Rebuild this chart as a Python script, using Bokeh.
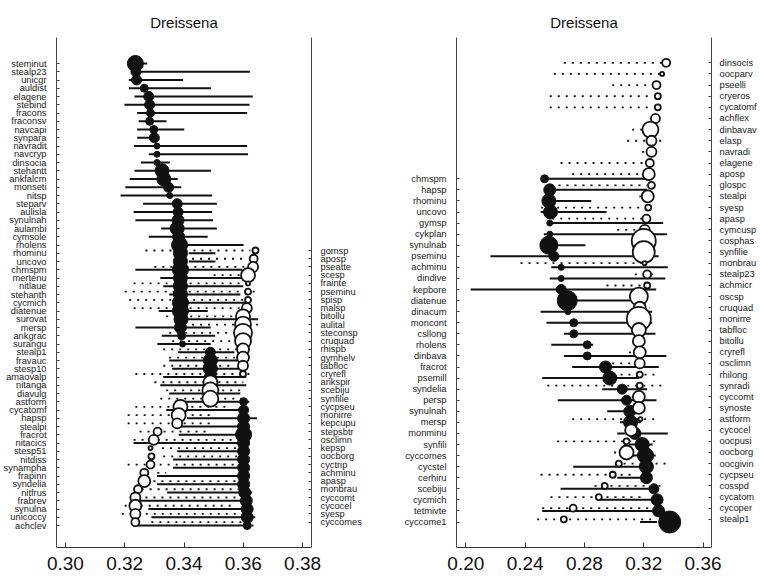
from bokeh.plotting import figure
from bokeh.models import Range1d, LinearAxis, FixedTicker, NumeralTickFormatter, ColumnDataSource
from bokeh.layouts import row
from bokeh.embed import file_html
from bokeh.resources import INLINE

# ---------------- DATA ----------------
# Left panel, decreasers (z-), top to bottom
L_dec_names = ["steminut","stealp23","unicgr","auldist","elagene","stebind","fracons","fraconsv",
               "navcapi","synpara","navradit","navcryp","dinsocia","stehantt","ankfalcm","monseti",
               "nitsp","steparv","aulisla","synulnah","aulambi","cymsole","rholens","rhominu",
               "uncovo","chmspm","mertenu","nitlaue","stehanth","cycmich","diatenue","surovat",
               "mersp","ankgrac","surangu","stealp1","fravauc","stesp10","amaovalp","nitanga",
               "diavulg","astform","cycatomf","hapsp","stealpi","fracrot","nitacics","stesp51",
               "nitdiss","synampha","frapinn","syndelia","nitfrus","frabrev","synulna","unicoccy","achclev"]
L_dec_cp = [0.3236,0.3238,0.3240,0.3266,0.3281,0.3284,0.3287,0.3284,0.3298,0.3300,0.3309,0.3309,
            0.3309,0.3326,0.3332,0.3348,0.3352,0.3377,0.3380,0.3380,0.3377,0.3382,0.3385,0.3388,
            0.3388,0.3388,0.3388,0.3388,0.3388,0.3388,0.3388,0.3390,0.3388,0.3392,0.3395,0.3489,
            0.3489,0.3489,0.3489,0.3489,0.3489,0.3601,0.3601,0.3601,0.3601,0.3601,0.3601,0.3601,
            0.3601,0.3601,0.3601,0.3601,0.3605,0.3610,0.3613,0.3613,0.3613]
L_dec_lo = [0.3225,0.3253,0.3214,0.3214,0.3233,0.3199,0.3242,0.3247,0.3242,0.3242,0.3231,0.3281,
            0.3255,0.3233,0.3217,0.3202,0.3186,0.3262,0.3230,0.3236,0.3323,0.3281,0.3390,0.3416,
            0.3416,0.3236,0.3320,0.3330,0.3350,0.3400,0.3315,0.3400,0.3236,0.3325,0.3310,0.3380,
            0.3350,0.3360,0.3330,0.3320,0.3350,0.3370,0.3340,0.3410,0.3380,0.3382,0.3230,0.3377,
            0.3363,0.3363,0.3309,0.3309,0.3343,0.3230,0.3280,0.3290,0.3230]
L_dec_hi = [0.3276,0.3622,0.3397,0.3491,0.3632,0.3621,0.3613,0.3341,0.3401,0.3315,0.3613,0.3616,
            0.3352,0.3491,0.3379,0.3391,0.3495,0.3511,0.3495,0.3498,0.3511,0.3480,0.3601,0.3506,
            0.3506,0.3596,0.3600,0.3600,0.3590,0.3610,0.3480,0.3650,0.3490,0.3505,0.3490,0.3570,
            0.3580,0.3600,0.3610,0.3610,0.3590,0.3620,0.3610,0.3646,0.3590,0.3590,0.3590,0.3585,
            0.3590,0.3590,0.3590,0.3590,0.3630,0.3607,0.3610,0.3640,0.3634]
L_dec_z = [16,10,10,8,10,10,8,8,8,10,6,6,6,14,14,10,6,10,10,12,14,12,16,14,14,16,14,14,14,16,
           16,14,12,8,6,10,14,14,12,10,8,8,10,12,12,16,12,12,12,12,12,12,12,12,12,12,8]

# Left panel, increasers (z+), top to bottom
L_inc_names = ["gomsp","aposp","pseatte","scesp","frainte","pseminu","spisp","malsp","bitollu",
               "aulital","steconsp","cruquad","rhispb","gymhelv","tabfloc","cryrefl","ankspir",
               "scebiju","synfilie","cycpseu","monirre","kepcupu","stepsbtr","osclimn","kepsp",
               "oocborg","cyctrip","achminu","apasp","monbrau","cyccomt","cycocel","syesp","cyccomes"]
L_inc_cp = [0.3641,0.3635,0.3633,0.3616,0.3616,0.3616,0.3616,0.3612,0.3599,0.3599,0.3599,0.3599,
            0.3599,0.3599,0.3599,0.3599,0.3489,0.3489,0.3489,0.3388,0.3382,0.3377,0.3311,0.3298,
            0.3287,0.3290,0.3287,0.3266,0.3266,0.3245,0.3236,0.3236,0.3236,0.3236]
L_inc_lo = [0.3270,0.3400,0.3300,0.3500,0.3230,0.3200,0.3215,0.3230,0.3340,0.3400,0.3350,0.3360,
            0.3330,0.3350,0.3330,0.3236,0.3300,0.3340,0.3320,0.3236,0.3210,0.3210,0.3250,0.3230,
            0.3326,0.3330,0.3210,0.3310,0.3270,0.3230,0.3270,0.3200,0.3190,0.3290]
L_inc_hi = [0.3624,0.3600,0.3610,0.3600,0.3620,0.3640,0.3620,0.3600,0.3600,0.3650,0.3610,0.3600,
            0.3600,0.3580,0.3570,0.3634,0.3600,0.3610,0.3600,0.3560,0.3490,0.3490,0.3490,0.3600,
            0.3585,0.3585,0.3585,0.3340,0.3585,0.3600,0.3600,0.3560,0.3600,0.3600]
L_inc_z = [6,8,10,14,4,6,6,10,14,16,18,16,12,12,10,6,14,16,16,14,14,10,8,10,4,6,8,8,12,8,10,12,10,8]

# Right panel, decreasers (z-), top to bottom
R_dec_names = ["chmspm","hapsp","rhominu","uncovo","gymsp","cykplan","synulnab","pseminu","achminu",
               "dindive","kepbore","diatenue","dinacum","moncont","csllong","rholens","dinbava",
               "fracrot","psemill","syndelia","persp","synulnah","mersp","monminu","synfili",
               "cyccomes","cycstel","cerhiru","scebiju","cycmich","tetmivte","cyccome1"]
R_dec_cp = [0.2531,0.2566,0.2560,0.2571,0.2566,0.2566,0.2560,0.2594,0.2643,0.2643,0.2643,0.2684,
            0.2688,0.2728,0.2728,0.2819,0.2819,0.2942,0.2971,0.3055,0.3084,0.3106,0.3111,0.3140,
            0.3190,0.3212,0.3218,0.3218,0.3268,0.3290,0.3300,0.3375]
R_dec_lo = [0.2531,0.2566,0.2560,0.2504,0.2566,0.2526,0.2560,0.2166,0.2576,0.2566,0.2032,0.2684,
            0.2504,0.2544,0.2661,0.2576,0.2661,0.2717,0.2515,0.2920,0.2620,0.2953,0.3040,0.3021,
            0.3100,0.3120,0.2724,0.3021,0.2639,0.2890,0.2515,0.3175]
R_dec_hi = [0.3234,0.3223,0.2846,0.2949,0.3331,0.3358,0.2807,0.3301,0.3362,0.3346,0.3284,0.3124,
            0.3257,0.3257,0.3279,0.2859,0.3353,0.3301,0.3167,0.3223,0.3286,0.3167,0.3180,0.3362,
            0.3260,0.3280,0.3223,0.3223,0.3268,0.3290,0.3286,0.3290]
R_dec_z = [8,12,14,14,6,6,18,10,6,6,10,20,6,8,8,8,8,12,14,10,10,12,14,12,14,16,14,12,10,12,12,22]

# Right panel, increasers (z+), top to bottom
R_inc_names = ["dinsocis","oocparv","pseelli","cryeros","cycatomf","achflex","dinbavav","elasp",
               "navradi","elagene","aposp","glospc","stealpi","syesp","apasp","cymcusp","cosphas",
               "synfilie","monbrau","stealp23","achmicr","oscsp","cruquad","monirre","tabfloc",
               "bitollu","cryrefl","osclimn","rhilong","synradi","cyccomt","synoste","astform",
               "cycocel","oocpusi","oocborg","oocgivin","cycpseu","cosspd","cycatom","cycoper","stealp1"]
R_inc_cp = [0.3351,0.3324,0.3286,0.3295,0.3295,0.3279,0.3245,0.3252,0.3252,0.3241,0.3234,0.3252,
            0.3227,0.3230,0.3218,0.3207,0.3200,0.3200,0.3205,0.3223,0.3223,0.3167,0.3173,0.3167,
            0.3167,0.3167,0.3173,0.3173,0.3173,0.3173,0.3167,0.3167,0.3178,0.3115,0.3084,0.3084,
            0.3032,0.2991,0.2937,0.2897,0.2724,0.2661]
R_inc_lo = [0.2661,0.2594,0.2987,0.2566,0.2566,0.3240,0.3122,0.3088,0.3189,0.2639,0.2717,0.2571,
            0.3170,0.2508,0.2583,0.3021,0.3150,0.3150,0.2369,0.3140,0.2949,0.3100,0.3130,0.3090,
            0.3120,0.3130,0.3100,0.2987,0.3043,0.2549,0.3120,0.3120,0.2717,0.3080,0.2616,0.3000,
            0.3064,0.2504,0.2868,0.2571,0.2515,0.2481]
R_inc_hi = [0.3324,0.3313,0.3257,0.3268,0.3268,0.3300,0.3300,0.3324,0.3295,0.3212,0.3200,0.3223,
            0.3240,0.3223,0.3189,0.3178,0.3250,0.3250,0.3189,0.3300,0.3189,0.3220,0.3240,0.3200,
            0.3220,0.3210,0.3200,0.3144,0.3279,0.3358,0.3220,0.3220,0.3301,0.3180,0.3301,0.3150,
            0.3358,0.3133,0.3331,0.3200,0.3268,0.3268]
R_inc_z = [8,4,8,6,6,9,16,10,10,8,12,7,12,6,8,10,24,22,4,8,6,18,12,24,14,12,12,10,6,6,12,12,4,
           12,6,14,6,6,6,6,7,6]

L_xticks = [0.30, 0.32, 0.34, 0.36, 0.38]
R_xticks = [0.20, 0.24, 0.28, 0.32, 0.36]
TITLE = "Dreissena"

# ---------------- STYLE / LAYOUT ----------------
FONT = "Liberation Sans"
LBL = "9.3px"
H = 586
TOP, BOT = 37, 547          # frame top / bottom (px)


def make_panel(width, bl, br, xr, xticks, dec, inc, dec_rng, inc_rng, lstand, rstand):
    p = figure(width=width, height=H, x_range=Range1d(*xr), y_range=Range1d(*dec_rng),
               output_backend="svg", toolbar_location=None,
               min_border_left=bl, min_border_right=br, min_border_top=TOP,
               min_border_bottom=H - BOT, x_axis_location="below", y_axis_location="left")
    p.extra_y_ranges = {"inc": Range1d(*inc_rng)}
    p.add_layout(LinearAxis(y_range_name="inc"), "right")
    p.xgrid.visible = False
    p.ygrid.visible = False
    p.outline_line_color = None
    p.background_fill_color = "white"
    p.border_fill_color = "white"

    p.title.text = TITLE
    p.title.align = "center"
    p.title.text_font = FONT
    p.title.text_font_size = "15px"
    p.title.text_font_style = "normal"
    p.title.text_color = "#111111"
    p.title.standoff = 14

    xa = p.xaxis[0]
    xa.ticker = FixedTicker(ticks=xticks)
    xa.formatter = NumeralTickFormatter(format="0.00")
    xa.major_tick_in = 5
    xa.major_tick_out = 0
    xa.minor_tick_line_color = None
    xa.major_label_text_font = FONT
    xa.major_label_text_font_size = "19px"
    xa.major_label_text_color = "#111111"
    xa.major_label_standoff = 9
    xa.axis_line_color = "#333333"
    xa.major_tick_line_color = "#333333"

    dn, dcp, dlo, dhi, dz = dec
    inn, icp, ilo, ihi, iz = inc
    nd, ni = len(dn), len(inn)
    dy = [nd - i for i in range(nd)]
    iy = [ni - i for i in range(ni)]

    la = p.yaxis[0]
    la.ticker = FixedTicker(ticks=dy)
    la.major_label_overrides = {nd - i: n for i, n in enumerate(dn)}
    ra = p.yaxis[1]
    ra.ticker = FixedTicker(ticks=iy)
    ra.major_label_overrides = {ni - i: n for i, n in enumerate(inn)}
    for ax, st in ((la, lstand), (ra, rstand)):
        ax.major_tick_in = 3
        ax.major_tick_out = 0
        ax.minor_tick_line_color = None
        ax.major_label_text_font = FONT
        ax.major_label_text_font_size = LBL
        ax.major_label_text_color = "#1a1a1a"
        ax.major_label_standoff = st
        ax.axis_line_color = "#444444"
        ax.major_tick_line_color = "#444444"

    ds = ColumnDataSource(dict(x=dcp, lo=dlo, hi=dhi, y=dy, z=dz))
    isrc = ColumnDataSource(dict(x=icp, lo=ilo, hi=ihi, y=iy, z=iz))

    p.segment(x0="lo", y0="y", x1="hi", y1="y", source=ds, line_color="#111111", line_width=2)
    p.scatter(x="x", y="y", size="z", source=ds, fill_color="#111111", line_color="#111111",
              line_width=1)
    p.segment(x0="lo", y0="y", x1="hi", y1="y", source=isrc, y_range_name="inc",
              line_color="#111111", line_width=1.8, line_dash="2 6")
    p.scatter(x="x", y="y", size="z", source=isrc, y_range_name="inc", fill_color="white",
              line_color="#111111", line_width=1.8)
    return p


# row pixel layout -> ranges
def rng(n, top_px, bot_px):
    step = (bot_px - top_px) / (n - 1)
    return (1 - (BOT - bot_px) / step, n + (top_px - TOP) / step)


p1 = make_panel(380, 56, 69, (0.2970, 0.3830), L_xticks,
                (L_dec_names, L_dec_cp, L_dec_lo, L_dec_hi, L_dec_z),
                (L_inc_names, L_inc_cp, L_inc_lo, L_inc_hi, L_inc_z),
                rng(len(L_dec_names), 63, 525), rng(len(L_inc_names), 250, 521.7), 10, 9)
p2 = make_panel(380, 76, 49, (0.1937, 0.3657), R_xticks,
                (R_dec_names, R_dec_cp, R_dec_lo, R_dec_hi, R_dec_z),
                (R_inc_names, R_inc_cp, R_inc_lo, R_inc_hi, R_inc_z),
                rng(len(R_dec_names), 178.3, 521.5), rng(len(R_inc_names), 62.3, 518.8), 10, 8)

layout = row(p1, p2, spacing=0)
open("out.html", "w").write(file_html(layout, INLINE))
